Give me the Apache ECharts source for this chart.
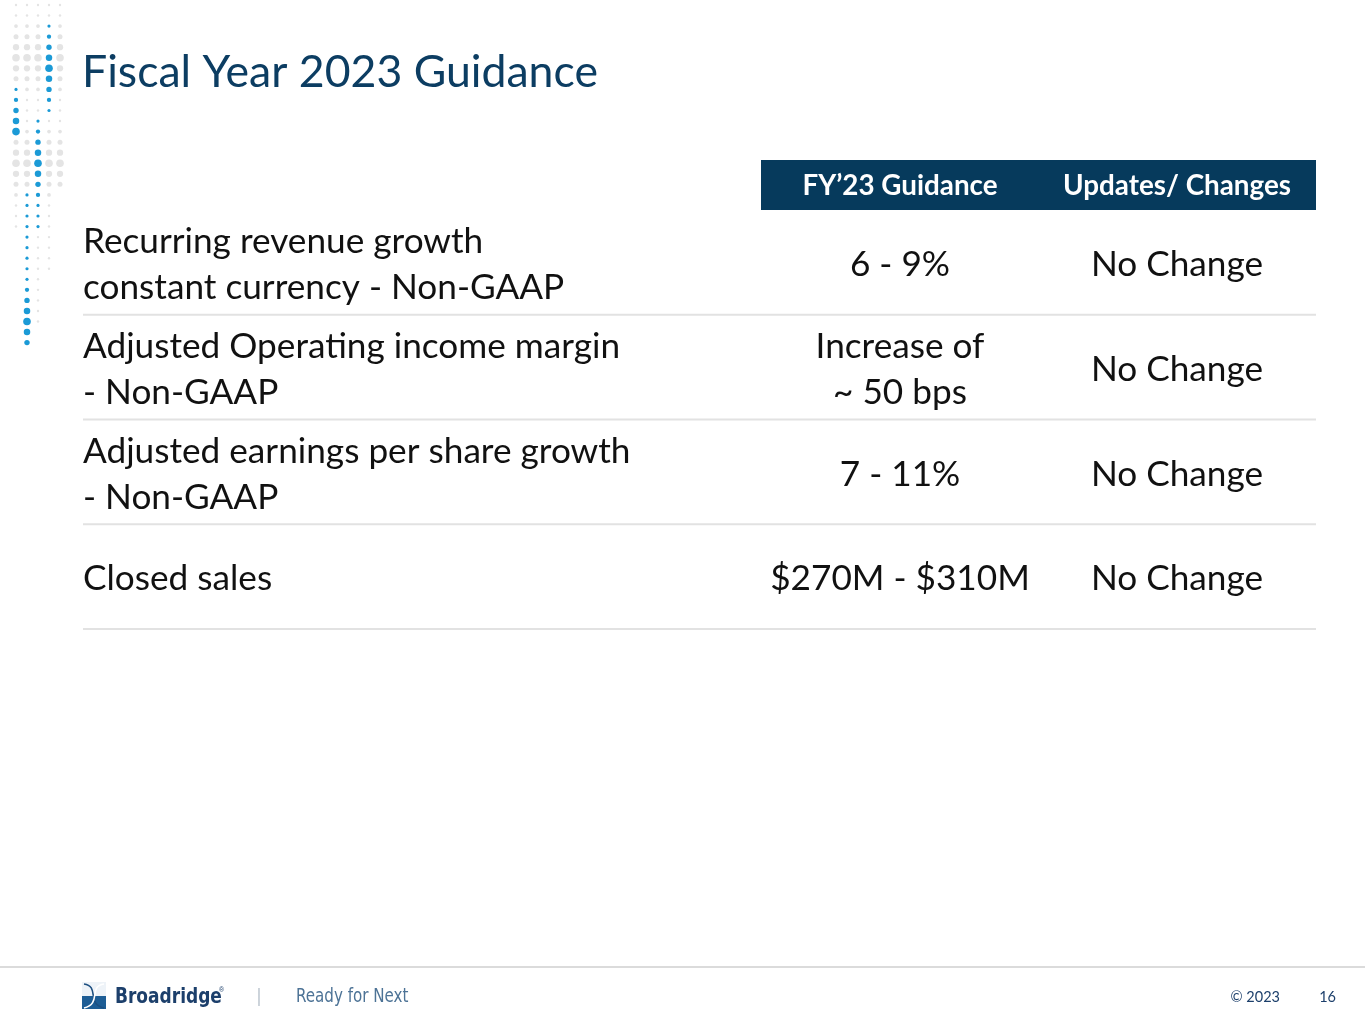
<!DOCTYPE html>
<html>
<head>
<meta charset="utf-8">
<script src="https://cdn.jsdelivr.net/npm/echarts@6/dist/echarts.min.js"></script>
<style>
  html, body { margin: 0; padding: 0; background: #fff; }
  #main { width: 1365px; height: 1024px; }
</style>
</head>
<body>
<div id="main"></div>
<script>
// table content
const metricLines = [
  ['Recurring revenue growth', 'constant currency - Non-GAAP'],
  ['Adjusted Operating income margin', '- Non-GAAP'],
  ['Adjusted earnings per share growth', '- Non-GAAP'],
  ['Closed sales']
];
const guidanceValues = ['6 - 9%', 'Increase of\n~ 50 bps', '7 - 11%', '$270M - $310M'];
const updateValues = ['No Change', 'No Change', 'No Change', 'No Change'];
const headerLabels = ['FY\u201923 Guidance', 'Updates/ Changes'];

const FONT = 'Lato, "Open Sans", sans-serif';
const NARROW = '"Liberation Sans Narrow", "DejaVu Sans Condensed", sans-serif';
const NAVY = '#063a5c';
const colCenters = [817, 1094]; // offsets from grid left

function renderRow(params, api) {
  const i = api.value(1);
  const cy = api.coord([0, i])[1] + 2.5;
  const h = api.size([0, 1])[1];
  const cs = params.coordSys;
  const bodyFont = '35.2px ' + FONT;
  const cell = (text, x, align) => ({
    type: 'text',
    style: {
      text: text, x: x, y: cy, align: align, verticalAlign: 'middle',
      font: bodyFont, lineHeight: 46, fill: '#111'
    }
  });
  return {
    type: 'group',
    children: [
      cell(metricLines[i].join('\n'), cs.x, 'left'),
      cell(guidanceValues[i], cs.x + colCenters[0], 'center'),
      cell(updateValues[i], cs.x + colCenters[1], 'center'),
      {
        type: 'line',
        shape: { x1: cs.x, y1: cy - 2.5 + h / 2, x2: cs.x + cs.width, y2: cy - 2.5 + h / 2 },
        style: { stroke: '#e2e2e2', lineWidth: 2 }
      }
    ]
  };
}

// decorative dot strip in the top left corner
function dotStrip() {
  const cols = [
    { x: 16, gray: [0, 21], blue: [8, 12], peak: 12 },
    { x: 27, gray: [0, 31], blue: [18, 32], peak: 30 },
    { x: 38, gray: [0, 30], blue: [11, 21], peak: 15 },
    { x: 49, gray: [0, 25], blue: [2, 10], peak: 6 },
    { x: 60, gray: [0, 17], blue: null, peak: 0 }
  ];
  const out = [];
  cols.forEach(c => {
    for (let i = 0; i <= 32; i++) {
      const y = 5 + i * 10.55;
      const isBlue = c.blue && i >= c.blue[0] && i <= c.blue[1];
      const inGray = i >= c.gray[0] && i <= c.gray[1];
      if (!isBlue && !inGray) continue;
      let r;
      if (isBlue) {
        r = 1.6 + 2.2 * Math.max(0, 1 - Math.abs(i - c.peak) / 4);
      } else {
        const d = Math.min(Math.abs(i - 5), Math.abs(i - 15));
        r = 1.2 + 2.6 * Math.max(0, 1 - d / 4);
      }
      out.push({
        type: 'circle', silent: true,
        shape: { cx: c.x, cy: y, r: r },
        style: { fill: isBlue ? '#1b9ad6' : '#e4e4e4' }
      });
    }
  });
  return out;
}

const chart = echarts.init(document.getElementById('main'));
chart.setOption({
  animation: false,
  grid: { left: 83, right: 49, top: 210, height: 419 },
  xAxis: { type: 'value', min: 0, max: 1, show: false },
  yAxis: { type: 'category', data: metricLines.map(l => l.join(' ')), inverse: true, show: false },
  series: [{
    type: 'custom',
    data: metricLines.map((_, i) => [0, i]),
    encode: { x: 0, y: 1 },
    renderItem: renderRow
  }],
  graphic: [
    ...dotStrip(),
    {
      type: 'text', x: 82, y: 73,
      style: { text: 'Fiscal Year 2023 Guidance', verticalAlign: 'middle', font: '44.6px ' + FONT, fill: '#0c3d62' }
    },
    {
      type: 'rect', shape: { x: 761, y: 160, width: 555, height: 50 },
      style: { fill: NAVY }
    },
    {
      type: 'text', x: 83 + colCenters[0], y: 186,
      style: { text: headerLabels[0], align: 'center', verticalAlign: 'middle', font: 'bold 27.8px ' + FONT, fill: '#fff' }
    },
    {
      type: 'text', x: 83 + colCenters[1], y: 186,
      style: { text: headerLabels[1], align: 'center', verticalAlign: 'middle', font: 'bold 27.8px ' + FONT, fill: '#fff' }
    },
    // footer
    {
      type: 'line', shape: { x1: 0, y1: 967, x2: 1365, y2: 967 },
      style: { stroke: '#cfcfcf', lineWidth: 1.5 }
    },
    {
      type: 'rect', shape: { x: 82, y: 982, width: 24, height: 27 },
      style: { fill: '#eef3f8' }
    },
    {
      type: 'rect', shape: { x: 82, y: 996, width: 24, height: 13 },
      style: { fill: '#1d5d95' }
    },
    {
      type: 'bezierCurve',
      shape: { x1: 84, y1: 984, x2: 104, y2: 1008, cpx1: 100, cpy1: 986, cpx2: 86, cpy2: 1004 },
      style: { stroke: '#1d4f80', lineWidth: 1.6, fill: null }
    },
    {
      type: 'bezierCurve',
      shape: { x1: 104, y1: 984, x2: 84, y2: 1008, cpx1: 88, cpy1: 986, cpx2: 102, cpy2: 1004 },
      style: { stroke: '#ffffff', lineWidth: 1.6, fill: null }
    },
    {
      type: 'text', x: 115, y: 997, scaleX: 0.86,
      style: { text: 'Broadridge', verticalAlign: 'middle', font: 'bold 22px ' + NARROW, fill: '#1c3f6b' }
    },
    {
      type: 'text', x: 219, y: 990,
      style: { text: '\u00ae', verticalAlign: 'middle', font: '7px sans-serif', fill: '#1c3f6b' }
    },
    {
      type: 'text', x: 259, y: 997,
      style: { text: '|', align: 'center', verticalAlign: 'middle', font: '18px ' + NARROW, fill: '#b8c2cc' }
    },
    {
      type: 'text', x: 296, y: 997, scaleX: 0.84,
      style: { text: 'Ready for Next', verticalAlign: 'middle', font: '20px ' + NARROW, fill: '#4d7396' }
    },
    {
      type: 'text', x: 1280, y: 997,
      style: { text: '\u00a9 2023', align: 'right', verticalAlign: 'middle', font: '14.5px ' + FONT, fill: '#1c3f6b' }
    },
    {
      type: 'text', x: 1336, y: 997,
      style: { text: '16', align: 'right', verticalAlign: 'middle', font: '14.5px ' + FONT, fill: '#1c3f6b' }
    }
  ]
});
</script>
</body>
</html>
